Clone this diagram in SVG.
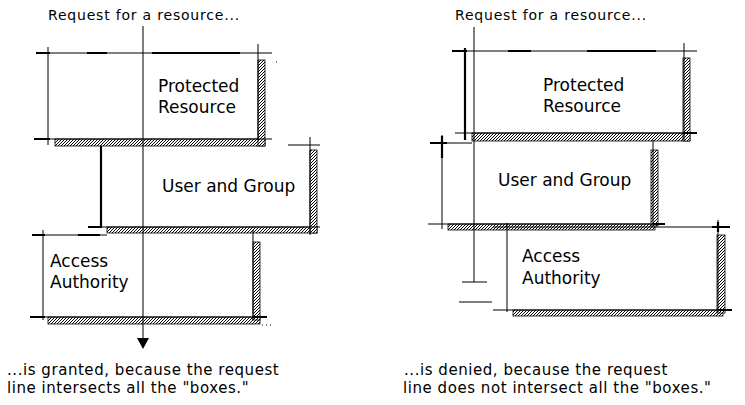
<svg xmlns="http://www.w3.org/2000/svg" width="745" height="405" viewBox="0 0 745 405">
<defs>
<pattern id="hatch" patternUnits="userSpaceOnUse" width="3" height="3">
<rect width="3" height="3" fill="#fff"/>
<path d="M-1,1 L1,-1 M0,3 L3,0 M2,4 L4,2" stroke="#000" stroke-width="1"/>
</pattern>
</defs>
<style>
.ln{stroke:#000;stroke-width:1;fill:none}
.tk{stroke:#000;stroke-width:2.2;fill:none}
.hs{fill:url(#hatch);stroke:#000;stroke-width:0.8}
.lbl{font-family:"DejaVu Sans",sans-serif;font-size:17px;fill:#000}
.cap{font-family:"DejaVu Sans",sans-serif;font-size:15px;letter-spacing:0.55px;fill:#000}
.ttl{font-family:"DejaVu Sans",sans-serif;font-size:14px;letter-spacing:0.8px;fill:#000}
</style>
<rect width="745" height="405" fill="#fff"/>

<text class="ttl" x="48" y="20">Request for a resource...</text>
<text class="ttl" x="455" y="20">Request for a resource...</text>

<!-- LEFT: Protected Resource -->
<g id="left-protected">
<rect class="hs" x="55" y="139" width="210" height="7"/>
<rect class="hs" x="258" y="60" width="7" height="86"/>
<path class="ln" d="M36,53 H272 M48,47 V145 M258,44 V140 M34,139 H272"/>
<path class="tk" d="M36,53 H50 M87,53 H107 M152,53 H240 M34,139 H50"/>
<text class="lbl" x="158" y="92">Protected</text>
<text class="lbl" x="158" y="113">Resource</text>
</g>

<!-- LEFT: User and Group -->
<g id="left-user">
<rect class="hs" x="107" y="227" width="210" height="6"/>
<rect class="hs" x="310" y="150" width="7" height="83"/>
<path class="ln" d="M288,145 H320 M310,137 V235 M88,227 H320"/>
<path class="tk" d="M101,146 V228 M88,227 H101"/>
<text class="lbl" x="162" y="192">User and Group</text>
</g>

<!-- LEFT: Access Authority -->
<g id="left-access">
<rect class="hs" x="48" y="317" width="212" height="7"/>
<rect class="hs" x="253" y="242" width="7" height="78"/>
<path class="ln" d="M32,235 H107 M43,230 V320 M253,230 V320 M30,317 H267"/>
<path class="tk" d="M32,235 H45 M78,235 H100 M30,317 H45 M253,317 H267"/>
<path class="ln" d="M262,325 h1 M266,325 h1 M270,325 h1 M276,62 h1" stroke-width="1.2"/>
<text class="lbl" x="50" y="267">Access</text>
<text class="lbl" x="50" y="288">Authority</text>
</g>

<!-- RIGHT: Protected Resource -->
<g id="right-protected">
<rect class="hs" x="472" y="133" width="218" height="8"/>
<rect class="hs" x="683" y="58" width="7" height="83"/>
<path class="ln" d="M452,51 H697 M684,43 V140 M455,133 H697"/>
<path class="tk" d="M465,48 V140 M452,51 H467 M508,51 H531 M587,51 H656 M683,133 H697"/>
<text class="lbl" x="543" y="91">Protected</text>
<text class="lbl" x="543" y="112">Resource</text>
</g>

<!-- RIGHT: User and Group -->
<g id="right-user">
<rect class="hs" x="448" y="224" width="207" height="6"/>
<rect class="hs" x="651" y="150" width="7" height="76"/>
<path class="ln" d="M430,143 H472 M442,135 V229 M653,140 V226 M428,224 H665"/>
<path class="tk" d="M430,143 H447 M442,136 V158 M653,224 H665"/>
<text class="lbl" x="498" y="186">User and Group</text>
</g>

<!-- RIGHT: Access Authority -->
<g id="right-access">
<rect class="hs" x="513" y="310" width="210" height="6"/>
<rect class="hs" x="717" y="235" width="8" height="78"/>
<path class="ln" d="M493,227 H730 M507,223 V312 M718,220 V312 M493,310 H732"/>
<path class="tk" d="M712,227 H730 M718,222 V232 M718,310 H732"/>
<text class="lbl" x="522" y="262">Access</text>
<text class="lbl" x="522" y="284">Authority</text>
</g>

<!-- Connectors: request lines -->
<g id="connectors">
<path class="ln" d="M143,26 V340"/>
<polygon points="137,338 149,338 143,349" fill="#000"/>
<path class="ln" d="M474,27 V282 M462,282 H487 M459,302 H492"/>
</g>

<text class="cap" x="7" y="375">...is granted, because the request</text>
<text class="cap" x="7" y="393">line intersects all the "boxes."</text>
<text class="cap" x="404" y="375">...is denied, because the request</text>
<text class="cap" x="403" y="393">line does not intersect all the "boxes."</text>
</svg>
